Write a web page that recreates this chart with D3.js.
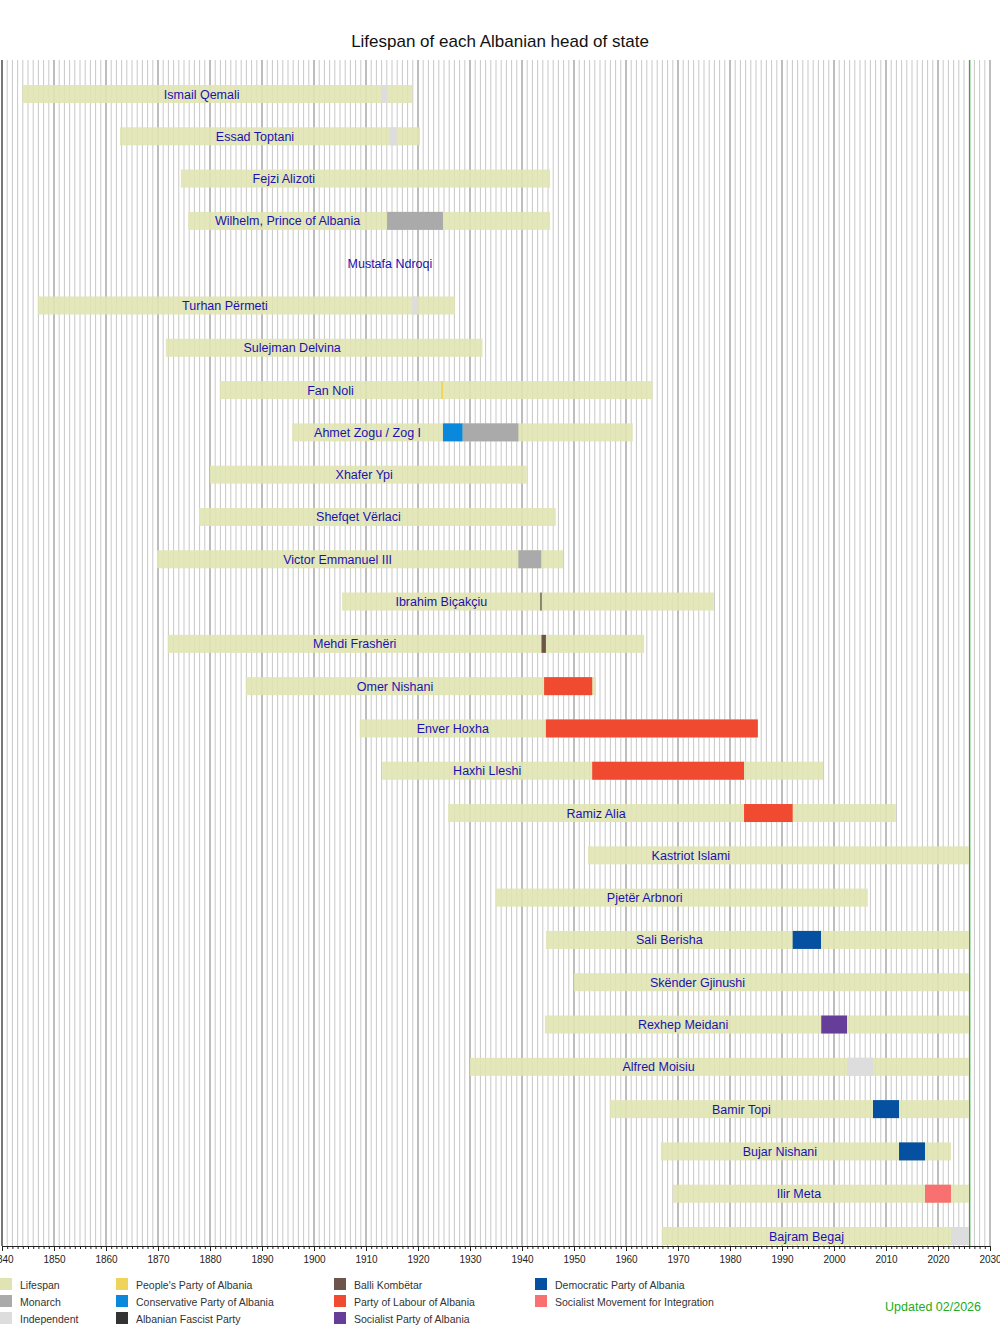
<!DOCTYPE html>
<html>
<head>
<meta charset="utf-8">
<script src="https://cdn.jsdelivr.net/npm/d3@7"></script>
<style>
  body { margin: 0; background: #fff; }
  svg { font-family: "Liberation Sans", Arial, sans-serif; }
</style>
</head>
<body>
<svg id="chart" width="1000" height="1325"></svg>
<script>
// heads of state, top to bottom
var names = ["Ismail Qemali", "Essad Toptani", "Fejzi Alizoti", "Wilhelm, Prince of Albania", "Mustafa Ndroqi",
  "Turhan Përmeti", "Sulejman Delvina", "Fan Noli", "Ahmet Zogu / Zog I", "Xhafer Ypi", "Shefqet Vërlaci",
  "Victor Emmanuel III", "Ibrahim Biçakçiu", "Mehdi Frashëri", "Omer Nishani", "Enver Hoxha", "Haxhi Lleshi",
  "Ramiz Alia", "Kastriot Islami", "Pjetër Arbnori", "Sali Berisha", "Skënder Gjinushi", "Rexhep Meidani",
  "Alfred Moisiu", "Bamir Topi", "Bujar Nishani", "Ilir Meta", "Bajram Begaj"];
// null = unknown, "alive" runs to the update date
var born = [1843.9, 1862.7, 1874.4, 1875.8, null, 1846.9, 1871.5, 1881.9, 1895.8, 1880.0, 1877.9,
  1869.8, 1905.4, 1871.9, 1886.9, 1908.8, 1913.1, 1925.8, 1952.7, 1935.0, 1944.6, 1950.0, 1944.4,
  1930.0, 1956.9, 1966.7, 1969.0, 1966.9];
var died = [1918.9, 1920.4, 1945.4, 1945.4, null, 1927.1, 1932.4, 1965.1, 1961.3, 1940.9, 1946.5,
  1947.9, 1976.9, 1963.5, 1954.2, 1985.4, 1997.9, 2011.9, "alive", 2006.5, "alive", "alive", "alive",
  "alive", "alive", 2022.5, "alive", "alive"];
var updated = 2026.1;

// terms in office: [row, from, to, party]  (acting stints of a few days have from == to)
var terms = [
  [0, 1912.9, 1914.05, "Independent"],
  [1, 1914.6, 1915.9, "Independent"],
  [2, 1914.0, 1914.0, "Independent"],
  [3, 1914.05, 1924.8, "Monarch"],
  [4, 1914.6, 1914.6, "Independent"],
  [5, 1918.85, 1919.9, "Independent"],
  [6, 1920.1, 1920.1, "Independent"],
  [7, 1924.45, 1924.8, "People's Party of Albania"],
  [8, 1924.8, 1928.6, "Conservative Party of Albania"],
  [8, 1928.6, 1939.3, "Monarch"],
  [9, 1939.3, 1939.3, "Independent"],
  [10, 1939.2, 1939.2, "Albanian Fascist Party"],
  [11, 1939.3, 1943.7, "Monarch"],
  [12, 1943.55, 1943.75, "Albanian Fascist Party"],
  [13, 1943.75, 1944.6, "Balli Kombëtar"],
  [14, 1944.25, 1953.5, "Party of Labour of Albania"],
  [15, 1944.6, 1985.35, "Party of Labour of Albania"],
  [16, 1953.5, 1982.7, "Party of Labour of Albania"],
  [17, 1982.7, 1992.05, "Party of Labour of Albania"],
  [18, 1992.25, 1992.25, "Democratic Party of Albania"],
  [19, 1992.2, 1992.2, "Democratic Party of Albania"],
  [20, 1992.05, 1997.5, "Democratic Party of Albania"],
  [21, 1997.5, 1997.5, "Socialist Party of Albania"],
  [22, 1997.55, 2002.5, "Socialist Party of Albania"],
  [23, 2002.5, 2007.5, "Independent"],
  [24, 2007.5, 2012.5, "Democratic Party of Albania"],
  [25, 2012.5, 2017.5, "Democratic Party of Albania"],
  [26, 2017.5, 2022.5, "Socialist Movement for Integration"],
  [27, 2022.5, 2026.1, "Independent"]
];

// legend, column by column
var legendNames = ["Lifespan", "Monarch", "Independent",
  "People's Party of Albania", "Conservative Party of Albania", "Albanian Fascist Party",
  "Balli Kombëtar", "Party of Labour of Albania", "Socialist Party of Albania",
  "Democratic Party of Albania", "Socialist Movement for Integration"];
var legendColors = ["#e0e4b2", "#aaaaaa", "#dddddd",
  "#f0d35a", "#0a88dc", "#333333",
  "#6e554a", "#f04a30", "#663d99",
  "#0550a0", "#f87070"];

var yearStart = 1840, yearEnd = 2030;

var svg = d3.select("#chart");
var color = d3.scaleOrdinal().domain(legendNames).range(legendColors);

var x = d3.scaleLinear().domain([yearStart, yearEnd]).range([2, 990]);
var y = d3.scalePoint().domain(d3.range(names.length)).range([94, 1236]);
var gridTop = 60, gridBottom = 1246, barH = 18;

svg.append("text")
  .attr("x", 500).attr("y", 47)
  .attr("text-anchor", "middle")
  .style("font-size", "17px")
  .attr("fill", "#111")
  .text("Lifespan of each Albanian head of state");

// yearly grid, decades darker
var years = d3.range(yearStart, yearEnd + 1);
svg.append("g").selectAll("line")
  .data(years)
  .enter()
  .append("line")
  .attr("x1", function (d) { return x(d); })
  .attr("x2", function (d) { return x(d); })
  .attr("y1", gridTop)
  .attr("y2", gridBottom)
  .attr("stroke", function (d) { return d % 10 == 0 ? "#7a7a7a" : "#c8c8c8"; })
  .attr("stroke-width", 1);

svg.append("line")
  .attr("x1", x(yearStart)).attr("x2", x(yearStart))
  .attr("y1", gridTop).attr("y2", gridBottom)
  .attr("stroke", "#333");

// lifespans
var rows = d3.range(names.length);
svg.append("g").selectAll("rect")
  .data(rows.filter(function (i) { return born[i] != null; }))
  .enter()
  .append("rect")
  .attr("x", function (i) { return x(born[i]); })
  .attr("width", function (i) {
    var end = died[i] == "alive" ? updated : died[i];
    return x(end) - x(born[i]);
  })
  .attr("y", function (i) { return y(i) - barH / 2; })
  .attr("height", barH)
  .attr("fill", color("Lifespan"))
  .attr("fill-opacity", 0.9);

// terms in office (zero-length ones draw nothing)
svg.append("g").selectAll("rect")
  .data(terms.filter(function (d) { return d[2] > d[1]; }))
  .enter()
  .append("rect")
  .attr("x", function (d) { return x(d[1]); })
  .attr("width", function (d) { return x(d[2]) - x(d[1]); })
  .attr("y", function (d) { return y(d[0]) - barH / 2; })
  .attr("height", barH)
  .attr("fill", function (d) { return color(d[3]); });

// names centred between birth and first term
svg.append("g").selectAll("text")
  .data(rows)
  .enter()
  .append("text")
  .attr("x", function (i) {
    var first = d3.min(terms.filter(function (t) { return t[0] == i; }), function (t) { return t[1]; });
    return born[i] == null ? x(first) : x((born[i] + first) / 2);
  })
  .attr("y", function (i) { return y(i) + 4.5; })
  .attr("text-anchor", "middle")
  .attr("fill", "#1a12b0")
  .style("font-size", "12.5px")
  .text(function (i) { return names[i]; });

// today
svg.append("line")
  .attr("x1", x(updated)).attr("x2", x(updated))
  .attr("y1", gridTop).attr("y2", gridBottom)
  .attr("stroke", "#1fa51f").attr("stroke-width", 1.2);

// axis: yearly minor ticks, decade labels
svg.append("g")
  .attr("transform", "translate(0," + gridBottom + ")")
  .call(d3.axisBottom(x).tickValues(years).tickSize(3).tickFormat("").tickSizeOuter(0))
  .call(function (g) { g.selectAll("line").attr("stroke", "#222"); g.select(".domain").attr("stroke", "#222"); });

svg.append("g")
  .attr("transform", "translate(0," + gridBottom + ")")
  .call(d3.axisBottom(x).tickValues(d3.range(yearStart, yearEnd + 1, 10)).tickSize(5).tickFormat(d3.format("d")).tickSizeOuter(0))
  .call(function (g) {
    g.select(".domain").remove();
    g.selectAll("line").attr("stroke", "#222");
    g.selectAll("text").attr("fill", "#222").style("font-size", "10px")
      .style("font-family", "'Liberation Sans', Arial, sans-serif").attr("dy", "0.9em");
  });

// legend
var legendCols = [0, 116, 334, 535];
var legend = svg.append("g").selectAll("g")
  .data(legendNames)
  .enter()
  .append("g")
  .attr("transform", function (d, i) {
    var col = Math.floor(i / 3), row = i % 3;
    return "translate(" + legendCols[col] + "," + (1278 + row * 17) + ")";
  });
legend.append("rect")
  .attr("width", 12).attr("height", 12)
  .attr("fill", function (d) { return color(d); });
legend.append("text")
  .attr("x", 20).attr("y", 10.5)
  .attr("fill", "#333")
  .style("font-size", "10.5px")
  .text(function (d) { return d; });

svg.append("text")
  .attr("x", 981).attr("y", 1311)
  .attr("text-anchor", "end")
  .attr("fill", "#22aa22")
  .style("font-size", "12.5px")
  .text("Updated 02/2026");
</script>
</body>
</html>
